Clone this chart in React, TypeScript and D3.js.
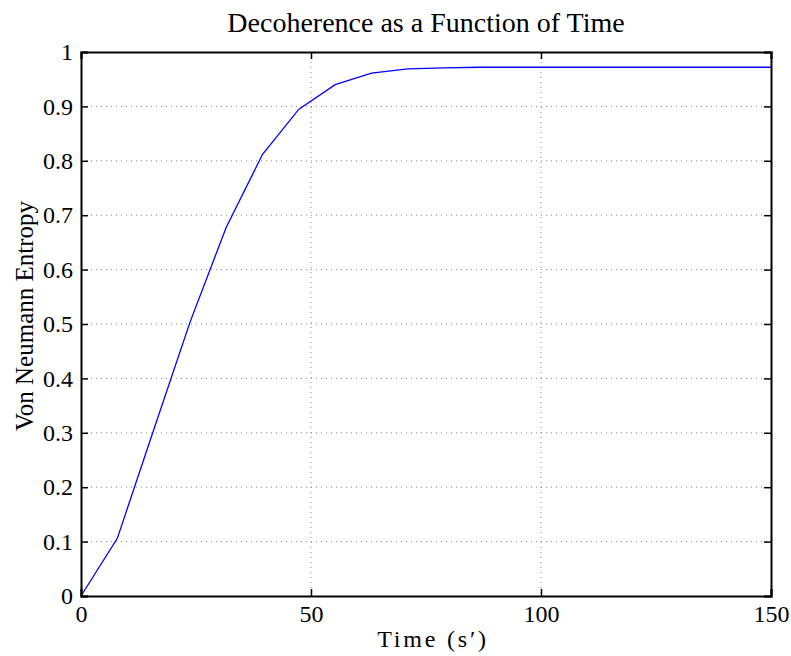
import React, { useEffect, useRef } from "react";
import * as d3 from "d3";

const times = d3.range(20).map((k) => (k * 150) / 19);
const entropy = [
  0, 0.106, 0.305, 0.503, 0.678, 0.812, 0.895, 0.94, 0.961, 0.969, 0.971,
  0.972, 0.972, 0.972, 0.972, 0.972, 0.972, 0.972, 0.972, 0.972,
];
const xTicks = [0, 50, 100, 150];
const yTicks = [0, 0.1, 0.2, 0.3, 0.4, 0.5, 0.6, 0.7, 0.8, 0.9, 1];

const W = 791;
const H = 656;
const margin = { top: 52, right: 20, bottom: 60, left: 81 };

export default function App() {
  const ref = useRef<SVGSVGElement>(null);

  useEffect(() => {
    drawChart();
  }, []);

  function drawChart() {
    const svg = d3.select(ref.current);
    svg.selectAll("*").remove();
    const iw = W - margin.left - margin.right;
    const ih = H - margin.top - margin.bottom;

    const x = d3.scaleLinear().domain([0, 150]).range([0, iw]);
    const y = d3.scaleLinear().domain([0, 1]).range([ih, 0]);

    const g = svg
      .append("g")
      .attr("transform", `translate(${margin.left},${margin.top})`);

    // dotted grid
    g.append("g")
      .selectAll("line")
      .data(xTicks.slice(1, -1))
      .join("line")
      .attr("x1", (d) => x(d))
      .attr("x2", (d) => x(d))
      .attr("y1", 0)
      .attr("y2", ih)
      .attr("stroke", "#888")
      .attr("stroke-dasharray", "1,4");
    g.append("g")
      .selectAll("line")
      .data(yTicks.slice(1, -1))
      .join("line")
      .attr("x1", 0)
      .attr("x2", iw)
      .attr("y1", (d) => y(d))
      .attr("y2", (d) => y(d))
      .attr("stroke", "#888")
      .attr("stroke-dasharray", "1,4");

    const line = d3
      .line<number>()
      .x((d, i) => x(times[i]))
      .y((d) => y(d));

    g.append("path")
      .datum(entropy)
      .attr("fill", "none")
      .attr("stroke", "#0000ff")
      .attr("stroke-width", 1.3)
      .attr("d", line);

    const font = "Liberation Serif, Times New Roman, serif";

    // axes, ticks inside, on all four sides
    const bottom = g
      .append("g")
      .attr("transform", `translate(0,${ih})`)
      .call(d3.axisBottom(x).tickValues(xTicks).tickSize(-7).tickPadding(9).tickFormat(d3.format("d")));
    const top = g
      .append("g")
      .call(d3.axisTop(x).tickValues(xTicks).tickSize(-7).tickFormat(() => ""));
    const left = g
      .append("g")
      .call(d3.axisLeft(y).tickValues(yTicks).tickSize(-7).tickPadding(8).tickFormat(d3.format("")));
    const right = g
      .append("g")
      .attr("transform", `translate(${iw},0)`)
      .call(d3.axisRight(y).tickValues(yTicks).tickSize(-7).tickFormat(() => ""));

    [bottom, top, left, right].forEach((a) => {
      a.select(".domain").attr("stroke", "#000").attr("stroke-width", 2);
      a.selectAll(".tick line").attr("stroke", "#000").attr("stroke-width", 1.5);
      a.selectAll(".tick text")
        .attr("fill", "#000")
        .style("font-family", font)
        .style("font-size", "24px");
    });

    svg
      .append("text")
      .attr("x", margin.left + iw / 2)
      .attr("y", 32)
      .attr("text-anchor", "middle")
      .style("font-family", font)
      .style("font-size", "28px")
      .text("Decoherence as a Function of Time");

    svg
      .append("text")
      .attr("x", 433)
      .attr("y", 647)
      .attr("text-anchor", "middle")
      .style("font-family", font)
      .style("font-size", "24px")
      .style("letter-spacing", "2.8px")
      .text("Time (s\u2032)");

    svg
      .append("text")
      .attr("transform", `translate(33,316) rotate(-90)`)
      .attr("text-anchor", "middle")
      .style("font-family", font)
      .style("font-size", "25px")
      .text("Von Neumann Entropy");
  }

  return (
    <svg
      ref={ref}
      width={W}
      height={H}
      style={{ position: "absolute", left: 0, top: 0, background: "#fff" }}
    />
  );
}
